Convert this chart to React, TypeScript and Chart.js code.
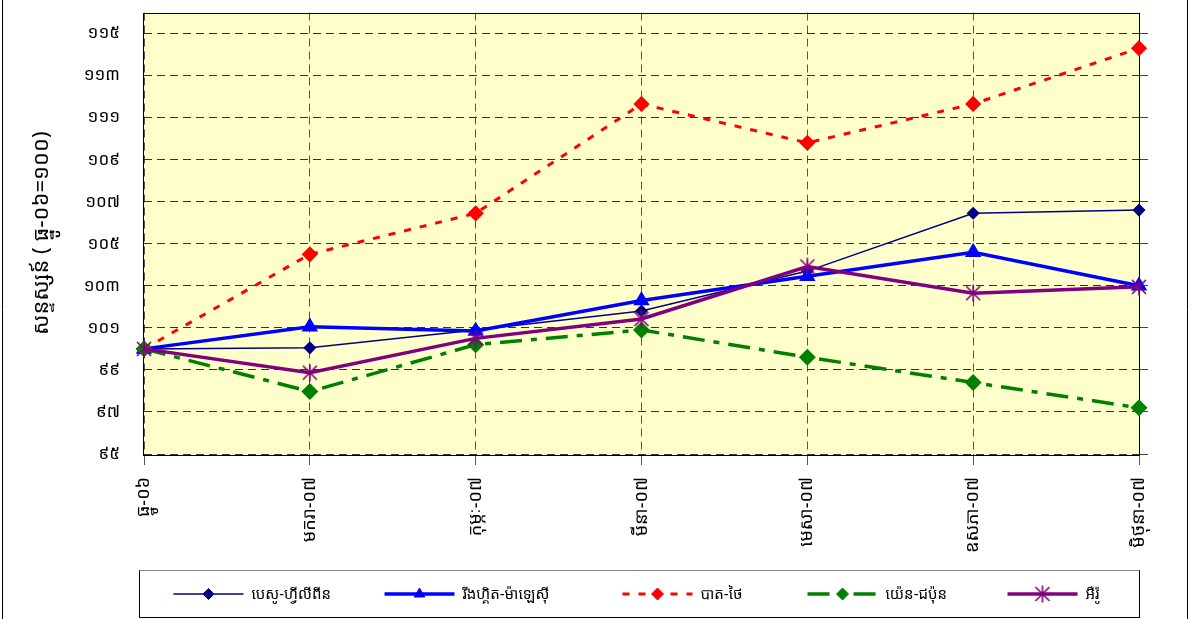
import React, { useEffect, useRef } from 'react';
import { Chart, registerables } from 'chart.js';
import { drawPoint } from 'chart.js/helpers';

Chart.register(...registerables);

const categories = ['ធ្នូ-០៦', 'មករា-០៧', 'កុម្ភៈ-០៧', 'មីនា-០៧', 'មេសា-០៧', 'ឧសភា-០៧', 'មិថុនា-០៧'];
const yTickValues = [95, 97, 99, 101, 103, 105, 107, 109, 111, 113, 115];
const yTickLabels = ['៩៥', '៩៧', '៩៩', '១០១', '១០៣', '១០៥', '១០៧', '១០៩', '១១១', '១១៣', '១១៥'];
const yAxisTitle = 'សន្ទស្សន៍ ( ធ្នូ-០៦=១០០)';
const seriesNames = ['បេសូ-ហ្វីលីពីន', 'រីងហ្គិត-ម៉ាឡេស៊ី', 'បាត-ថៃ', 'យ៉េន-ជប៉ុន', 'អឺរ៉ូ'];

const pesoValues = [100, 100.05, 100.9, 101.8, 103.7, 106.45, 106.6];
const ringgitValues = [100, 101.05, 100.85, 102.3, 103.45, 104.6, 103.0];
const bahtValues = [100, 104.5, 106.45, 111.65, 109.8, 111.65, 114.3];
const yenValues = [100, 97.97, 100.2, 100.9, 99.6, 98.4, 97.2];
const euroValues = [100, 98.87, 100.5, 101.42, 103.92, 102.65, 102.95];

// legend layout: symbol centre offsets from the legend box's left edge
const legendSymbolOffsets = [69, 280, 518, 703, 903];

const FONT = '"Noto Sans Khmer", "Khmer OS", "Khmer OS System", "DejaVu Sans", sans-serif';

function makeAsterisk(color: string): HTMLCanvasElement {
  const c = document.createElement('canvas');
  c.width = 18;
  c.height = 18;
  const g = c.getContext('2d')!;
  g.strokeStyle = color;
  g.lineWidth = 1.6;
  g.beginPath();
  g.moveTo(2, 2); g.lineTo(16, 16);
  g.moveTo(16, 2); g.lineTo(2, 16);
  g.moveTo(9, 0.5); g.lineTo(9, 17.5);
  g.stroke();
  return c;
}

const plotBackground = {
  id: 'plotBackground',
  beforeDraw(chart: any) {
    const { ctx, chartArea } = chart;
    ctx.save();
    ctx.fillStyle = '#FFFFCC';
    ctx.fillRect(chartArea.left, chartArea.top, chartArea.right - chartArea.left, chartArea.bottom - chartArea.top);
    ctx.restore();
  },
  beforeDatasetsDraw(chart: any) {
    const { ctx, chartArea } = chart;
    ctx.save();
    ctx.strokeStyle = '#000';
    ctx.lineWidth = 1;
    ctx.strokeRect(Math.round(chartArea.left) - 0.5, Math.round(chartArea.top) + 0.5,
      Math.round(chartArea.right - chartArea.left) + 1, Math.round(chartArea.bottom - chartArea.top));
    ctx.restore();
  },
};

const customLegend = {
  id: 'customLegend',
  afterDraw(chart: any) {
    const { ctx, chartArea } = chart;
    const L = Math.round(chartArea.left) - 4.5;
    const R = Math.round(chartArea.right) + 0.5;
    const T = 570.5;
    const B = 617.5;
    ctx.save();
    ctx.strokeStyle = '#000';
    ctx.lineWidth = 1;
    ctx.beginPath();
    ctx.moveTo(2.5, 0); ctx.lineTo(2.5, 619);
    ctx.moveTo(1187.5, 0); ctx.lineTo(1187.5, 619);
    ctx.stroke();
    ctx.strokeStyle = '#000';
    ctx.strokeRect(L, T, R - L, B - T);
    ctx.strokeStyle = '#888';
    ctx.beginPath(); ctx.moveTo(L, T); ctx.lineTo(R, T); ctx.stroke();

    const y = 594;
    chart.data.datasets.forEach((ds: any, i: number) => {
      const cx = L + legendSymbolOffsets[i];
      ctx.save();
      ctx.strokeStyle = ds.borderColor;
      ctx.lineWidth = ds.borderWidth;
      ctx.setLineDash(ds.borderDash || []);
      ctx.beginPath();
      ctx.moveTo(cx - 35, y);
      ctx.lineTo(cx + 35, y);
      ctx.stroke();
      ctx.setLineDash([]);
      ctx.fillStyle = ds.pointBackgroundColor;
      ctx.strokeStyle = ds.pointBorderColor;
      ctx.lineWidth = 1;
      drawPoint(ctx, { pointStyle: ds.pointStyle, radius: ds.pointRadius, borderWidth: 1, rotation: 0 } as any, cx, y);
      ctx.restore();
      ctx.fillStyle = '#000';
      ctx.font = '15px ' + FONT;
      ctx.textBaseline = 'middle';
      ctx.textAlign = 'left';
      ctx.fillText(ds.label, cx + 43, y + 1);
    });
    ctx.restore();
  },
};

export default function App() {
  const ref = useRef<HTMLCanvasElement>(null);

  useEffect(() => {
    if (!ref.current) return;
    const star = makeAsterisk('#800080');
    const setTicks = (axis: any) => {
      axis.ticks = yTickValues.map((v) => ({ value: v }));
    };
    const chart = new Chart(ref.current, {
      type: 'line',
      data: {
        labels: categories,
        datasets: [
          {
            label: seriesNames[0], data: pesoValues, order: 5,
            borderColor: '#000080', borderWidth: 1.5,
            pointStyle: 'rectRot', pointRadius: 5.5, pointBackgroundColor: '#000080', pointBorderColor: '#000080',
          },
          {
            label: seriesNames[1], data: ringgitValues, order: 4,
            borderColor: '#0000FF', borderWidth: 3.5,
            pointStyle: 'triangle', pointRadius: 6, pointBackgroundColor: '#0000FF', pointBorderColor: '#0000FF',
          },
          {
            label: seriesNames[2], data: bahtValues, order: 3,
            borderColor: '#FF0000', borderWidth: 3, borderDash: [7, 9],
            pointStyle: 'rectRot', pointRadius: 6, pointBackgroundColor: '#FF0000', pointBorderColor: '#FF0000',
          },
          {
            label: seriesNames[3], data: yenValues, order: 2,
            borderColor: '#008000', borderWidth: 3.5, borderDash: [22, 9, 6, 9],
            pointStyle: 'rectRot', pointRadius: 6, pointBackgroundColor: '#008000', pointBorderColor: '#008000',
          },
          {
            label: seriesNames[4], data: euroValues, order: 1,
            borderColor: '#800080', borderWidth: 3.5,
            pointStyle: star as any, pointRadius: 9, pointBackgroundColor: '#800080', pointBorderColor: '#800080',
          },
        ] as any,
      },
      options: {
        responsive: false,
        animation: false,
        layout: { padding: { top: 8, right: 44, left: 0, bottom: 0 } },
        elements: { line: { tension: 0 } },
        plugins: {
          legend: { display: false },
          tooltip: { enabled: false },
        },
        scales: {
          x: {
            offset: false,
            afterFit: (s: any) => { s.height = 165; s.paddingTop = 0; s.paddingBottom = 0; },
            grid: {
              color: '#555',
              lineWidth: 1,
              drawTicks: true,
              tickLength: 11,
              tickColor: '#555',
              tickBorderDash: [],
            },
            border: { display: false, dash: [8, 5] },
            ticks: {
              autoSkip: false,
              minRotation: 90,
              maxRotation: 90,
              padding: 12,
              color: '#000',
              font: { family: FONT, size: 18 },
            },
          },
          y: {
            min: 95,
            max: 116,
            afterBuildTicks: setTicks,
            afterFit: (s: any) => { s.width = 144; s.paddingTop = 0; s.paddingBottom = 0; },
            grid: { color: '#333', lineWidth: 1, drawTicks: false },
            border: { display: false, dash: [8, 5] },
            ticks: {
              padding: 24,
              color: '#000',
              font: { family: FONT, size: 17 },
              callback: (v: any) => yTickLabels[yTickValues.indexOf(Number(v))] ?? '',
            },
            title: {
              display: true,
              text: yAxisTitle,
              color: '#000',
              font: { family: FONT, size: 22 },
              padding: { top: 29, bottom: 0 },
            },
          },
          y2: {
            position: 'right',
            min: 95,
            max: 116,
            afterBuildTicks: setTicks,
            afterFit: (s: any) => { s.paddingTop = 0; s.paddingBottom = 0; },
            grid: { drawOnChartArea: false, drawTicks: true, tickLength: 9, tickColor: '#444' },
            border: { display: false },
            ticks: { display: false },
          },
        },
      } as any,
      plugins: [plotBackground, customLegend],
    });
    return () => chart.destroy();
  }, []);

  return (
    <div style={{ position: 'fixed', left: 0, top: 0, width: 1192, height: 619, background: '#fff', overflow: 'hidden' }}>
      <canvas ref={ref} width={1192} height={619} style={{ display: 'block', width: 1192, height: 619 }} />
    </div>
  );
}
